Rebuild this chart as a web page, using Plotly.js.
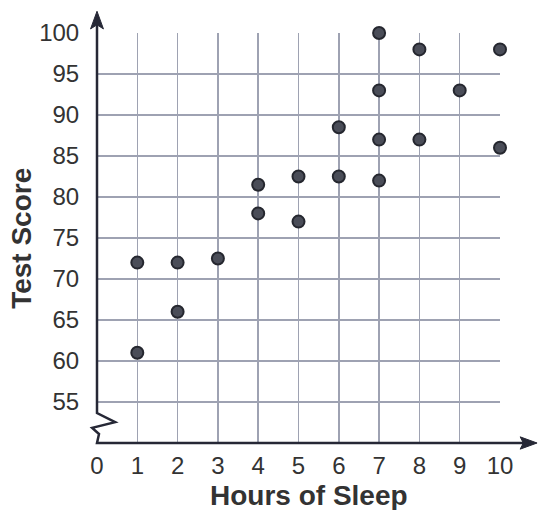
<!DOCTYPE html>
<html>
<head>
<meta charset="utf-8">
<script src="https://cdn.plot.ly/plotly-3.0.1.min.js"></script>
<style>html,body{margin:0;padding:0;background:#fff;}#chart{width:540px;height:510px;}</style>
</head>
<body>
<div id="chart"></div>
<script>
// Data
var hours  = [1, 1, 2, 2, 3, 4, 4, 5, 5, 6, 6, 7, 7, 7, 7, 8, 8, 9, 10, 10];
var scores = [72, 61, 72, 66, 72.5, 81.5, 78, 82.5, 77, 88.5, 82.5, 100, 93, 87, 82, 98, 87, 93, 98, 86];
var xTicks = [0, 1, 2, 3, 4, 5, 6, 7, 8, 9, 10];
var yTicks = [55, 60, 65, 70, 75, 80, 85, 90, 95, 100];
var xTitle = 'Hours of Sleep';
var yTitle = 'Test Score';

var axisColor = '#262836';
var gridColor = '#9ea2b2';
var textColor = '#333333';
var fontFam = 'Liberation Sans, Arial, sans-serif';

var trace = {
  x: hours, y: scores, type: 'scatter', mode: 'markers', cliponaxis: false,
  marker: {size: 12, color: '#4a4d58', line: {color: '#25272f', width: 2}},
  hoverinfo: 'x+y'
};

var layout = {
  width: 540, height: 510,
  margin: {l: 97, r: 40, t: 33, b: 67},
  paper_bgcolor: '#ffffff', plot_bgcolor: '#ffffff',
  showlegend: false,
  font: {family: fontFam, color: textColor, size: 24},
  xaxis: {
    range: [0, 10], tickvals: xTicks, ticktext: xTicks.map(String),
    showgrid: true, gridcolor: gridColor, gridwidth: 1.5,
    zeroline: false, showline: false,
    ticks: 'outside', ticklen: 1, tickcolor: 'rgba(0,0,0,0)',
    tickfont: {size: 24, color: textColor, family: fontFam},
    fixedrange: true
  },
  yaxis: {
    range: [50, 100], tickvals: yTicks, ticktext: yTicks.map(String),
    showgrid: true, gridcolor: gridColor, gridwidth: 1.5,
    zeroline: false, showline: false,
    ticks: 'outside', ticklen: 12, tickcolor: 'rgba(0,0,0,0)',
    tickfont: {size: 24, color: textColor, family: fontFam},
    fixedrange: true
  },
  shapes: [
    // y axis with break zigzag
    {type: 'path', xref: 'paper', yref: 'paper',
     path: 'M 0 1.03 L 0 0.073 L 0.045 0.051 L -0.012 0.037 L 0.005 0.022 L 0 0.0 L 1.06 0',
     line: {color: axisColor, width: 2.5}},
    // top arrowhead
    {type: 'path', xref: 'paper', yref: 'paper',
     path: 'M 0 1.053 L -0.016 1.01 L 0 1.02 L 0.016 1.01 Z',
     fillcolor: axisColor, line: {color: axisColor, width: 1}},
    // right arrowhead
    {type: 'path', xref: 'paper', yref: 'paper',
     path: 'M 1.092 0 L 1.05 0.015 L 1.058 0 L 1.05 -0.015 Z',
     fillcolor: axisColor, line: {color: axisColor, width: 1}}
  ],
  annotations: [
    {text: '<b>' + xTitle + '</b>', xref: 'paper', yref: 'paper', x: 0.526, y: -0.127,
     xanchor: 'center', yanchor: 'middle', showarrow: false,
     font: {size: 28, color: textColor, family: fontFam}},
    {text: '<b>' + yTitle + '</b>', xref: 'paper', yref: 'paper', x: -0.189, y: 0.5,
     xanchor: 'center', yanchor: 'middle', showarrow: false, textangle: -90,
     font: {size: 28, color: textColor, family: fontFam}}
  ]
};

Plotly.newPlot('chart', [trace], layout, {displayModeBar: false, staticPlot: true});
</script>
</body>
</html>
